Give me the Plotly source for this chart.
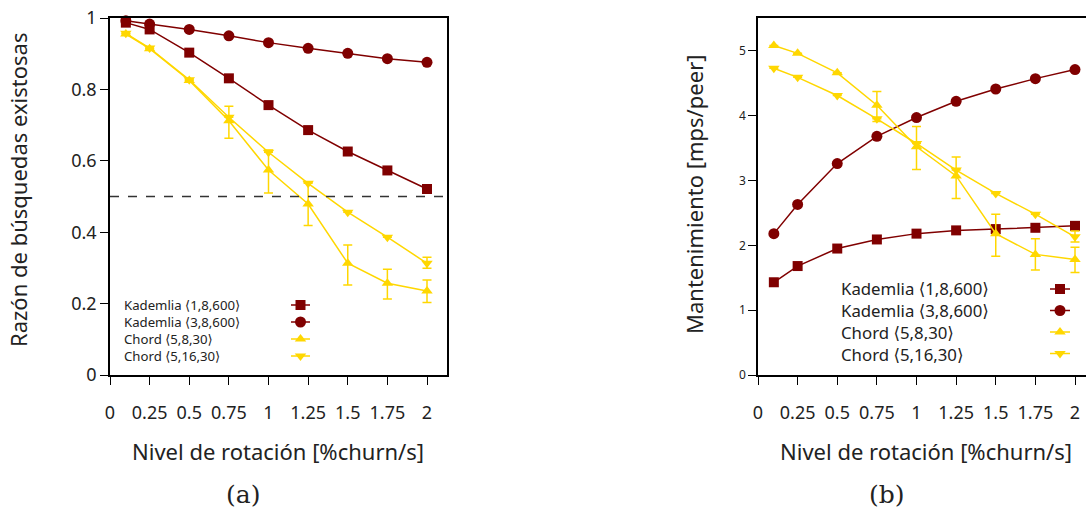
import plotly.graph_objects as go

# --- data -----------------------------------------------------------------
churn = [0.1, 0.25, 0.5, 0.75, 1, 1.25, 1.5, 1.75, 2]

# (a) success ratio of lookups
ok_kad_1_8_600 = [0.987, 0.968, 0.903, 0.831, 0.756, 0.686, 0.626, 0.573, 0.521]
ok_kad_3_8_600 = [0.992, 0.983, 0.968, 0.950, 0.931, 0.915, 0.901, 0.886, 0.876]
ok_chord_5_8_30 = [0.955, 0.914, 0.825, 0.712, 0.574, 0.479, 0.313, 0.257, 0.235]
ok_chord_5_8_30_up = [None, None, None, 0.041, 0.056, 0.060, 0.051, 0.039, 0.031]
ok_chord_5_8_30_dn = [None, None, None, 0.049, 0.064, 0.060, 0.061, 0.044, 0.032]
ok_chord_5_16_30 = [0.957, 0.916, 0.827, 0.722, 0.624, 0.537, 0.456, 0.386, 0.313]
ok_chord_5_16_30_up = [None, None, None, None, None, None, None, None, 0.017]
ok_chord_5_16_30_dn = [None, None, None, None, None, None, None, None, 0.014]

# (b) maintenance traffic
mt_kad_1_8_600 = [1.43, 1.68, 1.95, 2.09, 2.18, 2.23, 2.25, 2.27, 2.30]
mt_kad_3_8_600 = [2.18, 2.63, 3.26, 3.68, 3.97, 4.22, 4.41, 4.57, 4.71]
mt_chord_5_8_30 = [5.08, 4.96, 4.66, 4.16, 3.52, 3.07, 2.18, 1.86, 1.78]
mt_chord_5_8_30_up = [None, None, None, 0.21, 0.31, 0.29, 0.30, 0.24, 0.19]
mt_chord_5_8_30_dn = [None, None, None, 0.25, 0.35, 0.35, 0.35, 0.24, 0.20]
mt_chord_5_16_30 = [4.73, 4.59, 4.31, 3.95, 3.57, 3.16, 2.80, 2.48, 2.13]
mt_chord_5_16_30_up = [None, None, None, None, None, None, None, None, 0.09]
mt_chord_5_16_30_dn = [None, None, None, None, None, None, None, None, 0.08]

series_names = ["Kademlia \u27e81,8,600\u27e9", "Kademlia \u27e83,8,600\u27e9",
                "Chord \u27e85,8,30\u27e9", "Chord \u27e85,16,30\u27e9"]

x_tickvals = [0, 0.25, 0.5, 0.75, 1, 1.25, 1.5, 1.75, 2]
x_ticktext = ["0", "0.25", "0.5", "0.75", "1", "1.25", "1.5", "1.75", "2"]
ya_tickvals = [0, 0.2, 0.4, 0.6, 0.8, 1]
ya_ticktext = ["0", "0.2", "0.4", "0.6", "0.8", "1"]
yb_tickvals = [0, 1, 2, 3, 4, 5]
yb_ticktext = ["0", "1", "2", "3", "4", "5"]
threshold = 0.5

# --- style ----------------------------------------------------------------
W, H = 1086, 512
RED = "#800000"
GOLD = "#FFD700"
FONT = "Noto Sans, DejaVu Sans, sans-serif"
SERIF = "DejaVu Serif, Liberation Serif, serif"
TXT = "#222222"
styles = [
    dict(color=RED, symbol="square", size=10),
    dict(color=RED, symbol="circle", size=11),
    dict(color=GOLD, symbol="triangle-up", size=10),
    dict(color=GOLD, symbol="triangle-down", size=10),
]

fig = go.Figure()


def add_series(y, style, xa, ya, up=None, dn=None):
    err = None
    if up is not None:
        err = dict(type="data", symmetric=False, array=up, arrayminus=dn,
                   color=style["color"], thickness=1.5, width=4.5)
    fig.add_trace(go.Scatter(
        x=churn, y=y, mode="lines+markers", xaxis=xa, yaxis=ya,
        line=dict(color=style["color"], width=1.5),
        marker=dict(color=style["color"], symbol=style["symbol"], size=style["size"],
                    line=dict(width=0)),
        error_y=err, showlegend=False, cliponaxis=False, hoverinfo="skip"))


add_series(ok_kad_1_8_600, styles[0], "x", "y")
add_series(ok_kad_3_8_600, styles[1], "x", "y")
add_series(ok_chord_5_8_30, styles[2], "x", "y", ok_chord_5_8_30_up, ok_chord_5_8_30_dn)
add_series(ok_chord_5_16_30, styles[3], "x", "y", ok_chord_5_16_30_up, ok_chord_5_16_30_dn)

add_series(mt_kad_1_8_600, styles[0], "x2", "y2")
add_series(mt_kad_3_8_600, styles[1], "x2", "y2")
add_series(mt_chord_5_8_30, styles[2], "x2", "y2", mt_chord_5_8_30_up, mt_chord_5_8_30_dn)
add_series(mt_chord_5_16_30, styles[3], "x2", "y2", mt_chord_5_16_30_up, mt_chord_5_16_30_dn)

# --- legend keys (gnuplot style: text block on the left, samples on the right) ---
# overlay axis measured in page pixels; the labels form one multi-line text block
legends = [
    dict(tx=123, key=(291, 310), rows=[305, 322, 339, 356], size=13.2),
    dict(tx=840, key=(1050, 1070), rows=[289, 310.5, 332, 353.5], size=16.8),
]
annotations = []
for lg in legends:
    x0, x1 = lg["key"]
    for i, row in enumerate(lg["rows"]):
        st = styles[i]
        fig.add_trace(go.Scatter(
            x=[x0, x1], y=[row, row], mode="lines", xaxis="x3", yaxis="y3",
            line=dict(color=st["color"], width=1.5),
            showlegend=False, hoverinfo="skip", cliponaxis=False))
        fig.add_trace(go.Scatter(
            x=[(x0 + x1) / 2], y=[row], mode="markers", xaxis="x3", yaxis="y3",
            marker=dict(color=st["color"], symbol=st["symbol"],
                        size=st["size"], line=dict(width=0)),
            showlegend=False, hoverinfo="skip", cliponaxis=False))
    mid = sum(lg["rows"]) / len(lg["rows"])
    annotations.append(dict(
        x=lg["tx"] / W, y=1 - mid / H, xref="paper", yref="paper",
        text="<br>".join(series_names), align="left", showarrow=False,
        xanchor="left", yanchor="middle", borderpad=0,
        font=dict(family=FONT, size=lg["size"], color=TXT)))

# axis titles and panel captions
annotations += [
    dict(x=18 / W, y=1 - 190 / H, text="Razón de búsquedas existosas", textangle=-90,
         font=dict(family=FONT, size=22, color=TXT)),
    dict(x=694 / W, y=1 - 195 / H, text="Mantenimiento [mps/peer]", textangle=-90,
         font=dict(family=FONT, size=22, color=TXT)),
    dict(x=278 / W, y=1 - 451 / H, text="Nivel de rotación [%churn/s]",
         font=dict(family=FONT, size=22, color=TXT)),
    dict(x=926 / W, y=1 - 451 / H, text="Nivel de rotación [%churn/s]",
         font=dict(family=FONT, size=22, color=TXT)),
    dict(x=243 / W, y=1 - 494 / H, text="(a)", font=dict(family=SERIF, size=25, color=TXT)),
    dict(x=887 / W, y=1 - 494 / H, text="(b)", font=dict(family=SERIF, size=25, color=TXT)),
]
for a in annotations[-6:]:
    a.update(xref="paper", yref="paper", showarrow=False, xanchor="center", yanchor="middle")

PX_PER_UNIT = 158.5
y_dom = [1 - 375 / H, 1 - 18 / H]
axis_common = dict(showgrid=False, zeroline=False, linecolor="black", linewidth=1.5,
                   ticks="outside", ticklen=8, tickwidth=1.2, tickcolor="black",
                   automargin=False)

fig.update_layout(
    width=W, height=H, margin=dict(l=0, r=0, t=0, b=0, pad=0, autoexpand=False),
    paper_bgcolor="white", plot_bgcolor="rgba(0,0,0,0)",
    xaxis=dict(domain=[110 / W, (110 + 2.125 * PX_PER_UNIT) / W], range=[0, 2.125],
               tickvals=x_tickvals, ticktext=x_ticktext, mirror=True,
               tickfont=dict(family=FONT, size=18, color=TXT), ticklabelstandoff=13,
               anchor="y", **axis_common),
    yaxis=dict(domain=y_dom, range=[0, 1], tickvals=ya_tickvals, ticktext=ya_ticktext,
               mirror=True, tickfont=dict(family=FONT, size=18, color=TXT),
               anchor="x", **axis_common),
    xaxis2=dict(domain=[758 / W, 1], range=[0, (W - 758) / PX_PER_UNIT],
                tickvals=x_tickvals, ticktext=x_ticktext, mirror=True,
                tickfont=dict(family=FONT, size=18, color=TXT), ticklabelstandoff=13,
                anchor="y2", **axis_common),
    yaxis2=dict(domain=y_dom, range=[0, 5.505], tickvals=yb_tickvals, ticktext=yb_ticktext,
                mirror=False, tickfont=dict(family=FONT, size=12, color=TXT),
                anchor="x2", **axis_common),
    xaxis3=dict(domain=[0, 1], range=[0, W], visible=False, fixedrange=True,
                anchor="y3", automargin=False),
    yaxis3=dict(domain=[0, 1], range=[H, 0], visible=False, fixedrange=True,
                anchor="x3", automargin=False),
    annotations=annotations,
    shapes=[dict(type="line", xref="x domain", yref="y", x0=0, x1=1, y0=threshold, y1=threshold,
                 line=dict(color="#333333", width=1.5, dash="dash"))],
    showlegend=False,
)

fig.write_html("out.html")
